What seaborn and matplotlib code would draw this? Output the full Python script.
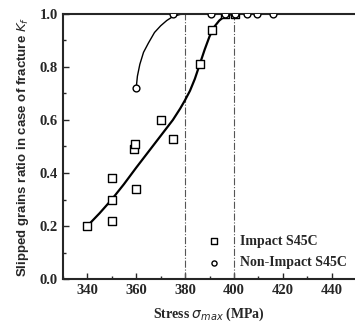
import matplotlib
matplotlib.use("Agg")
import matplotlib.pyplot as plt
import seaborn as sns
import pandas as pd
from matplotlib.ticker import MultipleLocator

# Impact S45C data (squares)
imp_x = [340, 350, 350, 350, 359, 359.7, 360, 370, 375, 386, 391, 396.5, 400.5]
imp_y = [0.20, 0.30, 0.38, 0.22, 0.49, 0.51, 0.34, 0.60, 0.53, 0.81, 0.94, 1.0, 1.0]
# Non-Impact S45C data (circles)
non_x = [360, 375, 390.5, 396.5, 400.5, 405.5, 409.5, 416]
non_y = [0.72, 1.0, 1.0, 1.0, 1.0, 1.0, 1.0, 1.0]
# fitted curves
imp_cx = [340, 345, 350, 355, 360, 365, 370, 375, 378, 380, 382, 384, 386, 388, 390, 392, 394, 396, 398, 400, 450]
imp_cy = [0.20, 0.248, 0.30, 0.358, 0.42, 0.48, 0.54, 0.60, 0.643, 0.675, 0.71, 0.755, 0.81, 0.865, 0.915, 0.952, 0.975, 0.99, 0.997, 1.0, 1.0]
non_cx = [360, 360.5, 361.5, 363, 365, 367.5, 370, 372.5, 375, 378, 382, 450]
non_cy = [0.72, 0.765, 0.81, 0.855, 0.89, 0.93, 0.955, 0.975, 0.99, 0.998, 1.0, 1.0]
vlines = [380, 400]

sns.set_style("ticks")
plt.rcParams['font.family'] = ['Liberation Serif', 'DejaVu Serif']

fig = plt.figure(figsize=(3.55, 3.23), dpi=100)
ax = fig.add_axes([0.177, 0.136, 0.823, 0.821])

for v in vlines:
    ax.plot([v, v], [0, 1.0], color='#555555', lw=0.8, ls='-.', zorder=1)

sns.lineplot(x=imp_cx, y=imp_cy, sort=False, estimator=None, color='black', lw=1.6, ax=ax, zorder=2)
sns.lineplot(x=non_cx, y=non_cy, sort=False, estimator=None, color='black', lw=1.0, ax=ax, zorder=2)

df1 = pd.DataFrame({'x': imp_x, 'y': imp_y})
df2 = pd.DataFrame({'x': non_x, 'y': non_y})
sns.scatterplot(data=df1, x='x', y='y', marker='s', s=28, facecolor='white', edgecolor='black',
                linewidth=1.0, ax=ax, zorder=3, label='Impact S45C')
sns.scatterplot(data=df2, x='x', y='y', marker='o', s=24, facecolor='white', edgecolor='black',
                linewidth=1.0, ax=ax, zorder=4, label='Non-Impact S45C')

ax.set_xlim(330, 449.5)
ax.set_ylim(0, 1.0)
ax.xaxis.set_major_locator(MultipleLocator(20))
ax.xaxis.set_minor_locator(MultipleLocator(10))
ax.yaxis.set_major_locator(MultipleLocator(0.2))
ax.yaxis.set_minor_locator(MultipleLocator(0.1))
ax.tick_params(which='both', direction='in', width=1.0)
ax.tick_params(which='major', length=4, labelsize=10.5)
ax.tick_params(which='minor', length=2)
ax.set_yticks([0, 0.2, 0.4, 0.6, 0.8, 1.0])
ax.set_yticklabels(['0.0', '0.2', '0.4', '0.6', '0.8', '1.0'], fontweight='bold')
ax.set_xticks([340, 360, 380, 400, 420, 440])
ax.set_xticklabels(['340', '360', '380', '400', '420', '440'], fontweight='bold')

for s in ['left', 'bottom', 'top']:
    ax.spines[s].set_linewidth(1.5)
ax.spines['right'].set_visible(False)

ax.set_xlabel(r'Stress $\sigma_{max}$ (MPa)', fontsize=10, fontweight='bold', labelpad=6)
ax.set_ylabel(r'Slipped grains ratio in case of fracture $K_f$', fontsize=9.5,
              family=['Liberation Sans', 'DejaVu Sans'], fontweight='bold', labelpad=6)

leg = ax.legend(loc='lower right', bbox_to_anchor=(1.015, -0.01), frameon=False, fontsize=10,
                handletextpad=0.9, labelspacing=0.6, markerscale=0.75)
for t in leg.get_texts():
    t.set_fontweight('bold')

fig.savefig('out.png', dpi=100)
